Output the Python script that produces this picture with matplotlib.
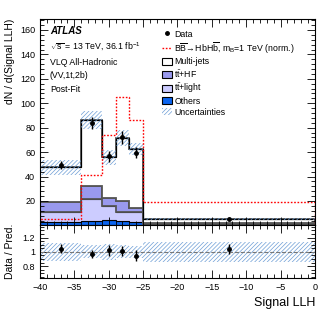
import numpy as np
import matplotlib
matplotlib.use("Agg")
import matplotlib.pyplot as plt
from matplotlib.ticker import MultipleLocator
from matplotlib.patches import Patch
from matplotlib.lines import Line2D

plt.rcParams['font.family'] = ['Liberation Sans', 'DejaVu Sans']
plt.rcParams['mathtext.fontset'] = 'custom'
plt.rcParams['mathtext.rm'] = 'Liberation Sans'
plt.rcParams['mathtext.it'] = 'Liberation Sans:italic'
plt.rcParams['hatch.linewidth'] = 0.5

# bins of Signal LLH
edges = np.array([-40, -34, -31, -29, -27, -25, 0])
centers = [-37, -32.5, -30, -28, -26, -12.5]

# backgrounds (dN/dLLH)
others = [3.1, 3.9, 4.7, 3.9, 3.1, 1.0]
tt_light = [8.2, 17.6, 11.3, 7.4, 7.7, 0.5]
tt_hf = [7.7, 10.9, 6.1, 8.9, 3.2, 0.3]
multijets = [28.5, 53.9, 33.6, 51.1, 48.8, 3.2]
unc_rel = [0.13, 0.09, 0.11, 0.09, 0.08, 0.14]

# signal (normalised)
signal = [5.2, 41.2, 74.0, 105.4, 86.3, 18.8]

# data
data = [49.5, 84.0, 56.8, 72.0, 59.5, 5.2]
data_err = [3.0, 5.0, 4.5, 5.0, 4.5, 0.35]

c_others = '#0a64f0'
c_light = '#ccccff'
c_hf = '#9999ee'
c_unc = '#6f9fd6'

fig = plt.figure(figsize=(3.32, 3.22), dpi=100)
ax = fig.add_axes([0.1205, 0.300, 0.828, 0.641])
rax = fig.add_axes([0.1205, 0.137, 0.828, 0.163])

widths = np.diff(edges)
b0 = np.zeros(len(others))
b1 = b0 + others
b2 = b1 + tt_light
b3 = b2 + tt_hf
total = b3 + multijets

ax.stairs(b1, edges, baseline=b0, fill=True, facecolor=c_others, edgecolor='#222222', lw=0.8)
ax.stairs(b2, edges, baseline=b1, fill=True, facecolor=c_light, edgecolor='black', lw=0.8)
ax.stairs(b3, edges, baseline=b2, fill=True, facecolor=c_hf, edgecolor='#555555', lw=1.3)
ax.stairs(total, edges, baseline=b3, fill=True, facecolor='white', edgecolor='#555555', lw=1.3)
ax.stairs(total, edges, baseline=None, color='black', lw=0.9)

unc = total * np.array(unc_rel)
ax.bar(edges[:-1], 2 * unc, bottom=total - unc, width=widths, align='edge',
       facecolor='none', edgecolor=c_unc, hatch='////////', linewidth=0)

ax.stairs(signal, edges, color='red', ls=(0, (1.2, 1.2)), lw=1.0)

ax.errorbar(centers, data, yerr=data_err, fmt='o', color='black', ms=2.5, elinewidth=1.0, capsize=0)

ax.set_xlim(-40, 0)
ax.set_ylim(0, 169)
ax.set_ylabel('dN / d(Signal LLH)', fontsize=7.5, loc='top')
ax.yaxis.set_minor_locator(MultipleLocator(4))
ax.xaxis.set_major_locator(MultipleLocator(5))
ax.xaxis.set_minor_locator(MultipleLocator(1))
ax.set_yticks([20, 40, 60, 80, 100, 120, 140, 160])
ax.tick_params(axis='both', which='both', direction='in', top=True, right=True, labelsize=6.5)
ax.tick_params(which='major', length=6, width=0.6)
ax.tick_params(which='minor', length=3, width=0.6)
ax.tick_params(axis='x', labelbottom=False)

ax.text(0.036, 0.94, 'ATLAS', transform=ax.transAxes, fontsize=7, fontweight='bold', style='italic', va='center')
ax.text(0.036, 0.865, r'$\sqrt{\mathrm{s}}$ = 13 TeV, 36.1 fb$^{-1}$', transform=ax.transAxes, fontsize=6.3, va='center')
ax.text(0.036, 0.79, 'VLQ All-Hadronic', transform=ax.transAxes, fontsize=6.3, va='center')
ax.text(0.036, 0.725, '(VV,1t,2b)', transform=ax.transAxes, fontsize=6.3, va='center')
ax.text(0.036, 0.66, 'Post-Fit', transform=ax.transAxes, fontsize=6.3, va='center')

handles = [
    Line2D([], [], marker='o', color='black', ms=2.5, ls='none'),
    Line2D([], [], color='red', ls=(0, (1.2, 1.2)), lw=1.0),
    Patch(facecolor='white', edgecolor='black', lw=0.8),
    Patch(facecolor=c_hf, edgecolor='black', lw=0.8),
    Patch(facecolor=c_light, edgecolor='black', lw=0.8),
    Patch(facecolor=c_others, edgecolor='black', lw=0.8),
    Patch(facecolor='none', edgecolor=c_unc, hatch='////////', lw=0),
]
labels = ['Data',
          r'$\mathrm{B\overline{B}}\!\rightarrow\!\mathrm{HbH\overline{b}}$, m$_{\mathrm{B}}$=1 TeV (norm.)',
          'Multi-jets', r'$\mathrm{t\bar{t}}$+HF', r'$\mathrm{t\bar{t}}$+light', 'Others', 'Uncertainties']
ax.legend(handles, labels, loc='upper left', bbox_to_anchor=(0.43, 0.965), fontsize=6.3, frameon=False,
          handlelength=1.2, handleheight=0.85, labelspacing=0.2, handletextpad=0.25, borderaxespad=0)

# ratio panel
ratio = np.array(data) / total
ratio_err = np.array(data_err) / total
rax.bar(edges[:-1], 2 * np.array(unc_rel), bottom=1 - np.array(unc_rel), width=widths, align='edge',
        facecolor='none', edgecolor=c_unc, hatch='////////', linewidth=0)
rax.axhline(1, color='#777777', ls='--', lw=0.8)
rax.errorbar(centers, ratio, yerr=ratio_err, fmt='o', color='black', ms=2.5, elinewidth=1.0, capsize=0)
rax.set_xlim(-40, 0)
rax.set_ylim(0.635, 1.37)
rax.set_yticks([0.8, 1.0, 1.2])
rax.set_yticklabels(['0.8', '1', '1.2'])
rax.yaxis.set_minor_locator(MultipleLocator(0.05))
rax.xaxis.set_major_locator(MultipleLocator(5))
rax.xaxis.set_minor_locator(MultipleLocator(1))
rax.tick_params(axis='both', which='both', direction='in', top=True, right=True, labelsize=6.5)
rax.tick_params(which='major', length=6, width=0.6)
rax.tick_params(which='minor', length=3, width=0.6)
rax.set_ylabel('Data / Pred.', fontsize=7.5)
rax.set_xlabel('Signal LLH', fontsize=9, loc='right')
ax.yaxis.set_label_coords(-0.09, 1.0)
rax.yaxis.set_label_coords(-0.09, 0.5)

fig.savefig('out.png', dpi=100)
